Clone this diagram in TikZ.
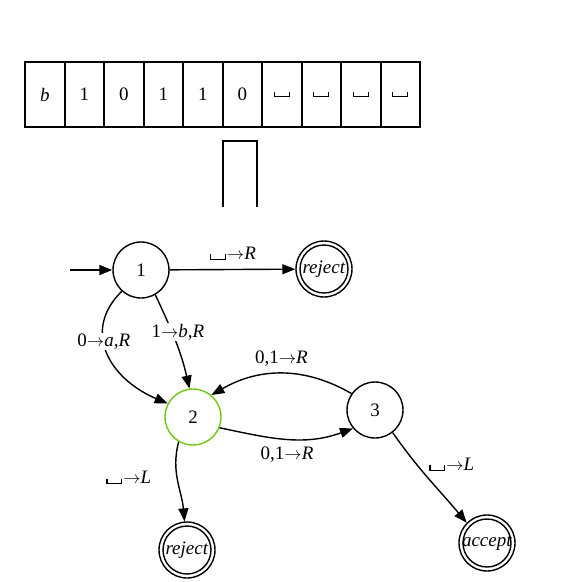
\documentclass[tikz,border=0pt]{standalone}
\usepackage{fontspec}
\setmainfont{Liberation Serif}
\usetikzlibrary{arrows.meta}
\newcommand\blk{\kern0.05em\rule{0.06em}{0.28em}\rule{0.72em}{0.06em}\rule{0.06em}{0.28em}\kern0.05em}
\definecolor{curgreen}{RGB}{110,200,20}
\begin{document}
\begin{tikzpicture}[x=1pt,y=-1pt,
  every node/.style={font=\fontsize{19}{22}\selectfont},
  cell/.style={minimum width=39.5pt,minimum height=65pt,inner sep=0pt},
  st/.style={draw,circle,line width=1.4pt,minimum size=56pt,inner sep=0pt},
  fin/.style={st},
  lbl/.style={inner sep=1pt},
  edge/.style={line width=1.4pt,-{Triangle[length=13pt,width=10pt]}}]
\useasboundingbox (0,0) rectangle (582,582);
% tape
\foreach \t [count=\i] in {\textit{b},1,0,1,1,0,\blk,\blk,\blk,\blk}{
  \node[cell] (c\i) at ({25+39.5*(\i-0.5)},94.5) {\t};
}
\draw[line width=2pt] (c1.north west) rectangle (c10.south east);
\foreach \i in {1,...,9}{
  \draw[line width=2pt] (c\i.north east) -- (c\i.south east);
}
% head
\coordinate (h1) at (223,207);
\coordinate (h2) at (223,141);
\coordinate (h3) at (257,141);
\coordinate (h4) at (257,207);
\draw[line width=2pt] (h1) -- (h2) -- (h3) -- (h4);
% states
\node[st] (s1) at (141,270) {1};
\node[fin] (r1) at (324,269) {\textit{reject}};
\draw[line width=1.4pt] (r1.center) circle (24pt);
\node[st,draw=curgreen] (s2) at (193,417) {2};
\node[st] (s3) at (375,410) {3};
\node[fin] (r2) at (187,550) {\textit{reject}};
\draw[line width=1.4pt] (r2.center) circle (24pt);
\node[fin] (ac) at (487,543) {\textit{accept}};
\draw[line width=1.4pt] (ac.center) circle (24pt);
% edges
\coordinate (init) at (70,270);
\draw[edge] (init) -- (s1);
\draw[edge] (s1) -- (r1) node[lbl,midway,above=8pt] {\blk$\to$\textit{R}};
\draw[edge] (s1.228) .. controls (82,330) and (108,378) .. node[lbl,pos=0.41,fill=white] {0$\to$\textit{a},\textit{R}} (s2.152);
\draw[edge] (s1.-60) to[out=-65,in=103] node[lbl,pos=0.4,fill=white,xshift=6pt] {1$\to$\textit{b},\textit{R}} (s2.97);
\draw[edge] (s3.145) to[out=150,in=30] node[lbl,above=6pt,pos=0.5] {0,1$\to$\textit{R}} (s2.50);
\draw[edge] (s2.-22) to[out=-12,in=-160] node[lbl,below=6pt,pos=0.5] {0,1$\to$\textit{R}} (s3.-140);
\draw[edge] (s2.-120) to[out=-105,in=95] node[lbl,left=24pt,pos=0.45] {\blk$\to$\textit{L}} (r2.95);
\draw[edge] (s3.-52) to[out=-55,in=130] node[lbl,right=10pt,pos=0.33] {\blk$\to$\textit{L}} (ac.135);
\end{tikzpicture}
\end{document}
